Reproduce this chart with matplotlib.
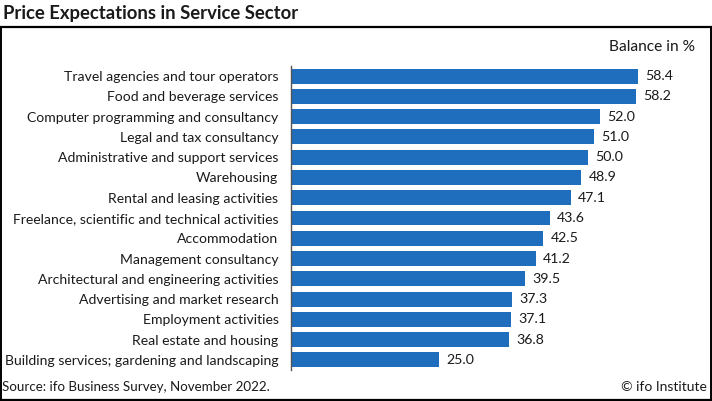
import matplotlib.pyplot as plt
from matplotlib.lines import Line2D

plt.rcParams['font.family'] = ['Lato', 'DejaVu Sans']

# data
sectors = [
    'Travel agencies and tour operators',
    'Food and beverage services',
    'Computer programming and consultancy',
    'Legal and tax consultancy',
    'Administrative and support services',
    'Warehousing',
    'Rental and leasing activities',
    'Freelance, scientific and technical activities',
    'Accommodation',
    'Management consultancy',
    'Architectural and engineering activities',
    'Advertising and market research',
    'Employment activities',
    'Real estate and housing',
    'Building services; gardening and landscaping',
]
balance = [58.4, 58.2, 52.0, 51.0, 50.0, 48.9, 47.1, 43.6, 42.5, 41.2,
           39.5, 37.3, 37.1, 36.8, 25.0]

W, H = 712, 401
fig = plt.figure(figsize=(W / 100, H / 100), dpi=100)

def fx(px):
    return px / W

def fy(py):
    return 1 - py / H

ax = fig.add_axes([fx(291), fy(370), fx(700) - fx(291), fy(66) - fy(370)])
pos = list(range(len(sectors)))
ax.barh(pos, balance, height=0.74, color='#1f6ebe')
ax.set_ylim(len(sectors) - 0.5, -0.5)
ax.set_xlim(0, 68.9)
ax.set_yticks(pos)
ax.set_yticklabels(sectors, fontsize=10.1, color='#1a1a1a')
ax.tick_params(axis='y', length=0, pad=9)
ax.set_xticks([])
for s in ['top', 'right', 'bottom']:
    ax.spines[s].set_visible(False)
ax.spines['left'].set_color('#555555')
ax.spines['left'].set_linewidth(1)

for i, v in enumerate(balance):
    ax.text(v + 1.2, i, f'{v:.1f}', va='center', ha='left', fontsize=10.2,
            color='#1a1a1a')

# header, footer and frame
fig.text(fx(3), fy(14), 'Price Expectations in Service Sector', fontsize=13.3,
         fontweight='bold', va='center', ha='left', color='#1a1a1a')
fig.text(fx(695), fy(47), 'Balance in %', fontsize=11.2, va='center',
         ha='right', color='#1a1a1a')
fig.text(fx(2), fy(387), 'Source: ifo Business Survey, November 2022.',
         fontsize=9.6, va='center', ha='left', color='#1a1a1a')
fig.text(fx(707), fy(387), '\u00a9 ifo Institute', fontsize=10, va='center',
         ha='right', color='#1a1a1a')

fig.add_artist(Line2D([0, 1], [fy(27), fy(27)], color='black', lw=1.6))
fig.add_artist(Line2D([fx(0.8), fx(0.8)], [fy(27), fy(399)], color='black', lw=1.4))
fig.add_artist(Line2D([fx(710.5), fx(710.5)], [fy(27), fy(399)], color='black', lw=1.4))
fig.add_artist(Line2D([0, 1], [fy(399.5), fy(399.5)], color='black', lw=1.6))

fig.savefig('out.png', dpi=100)
